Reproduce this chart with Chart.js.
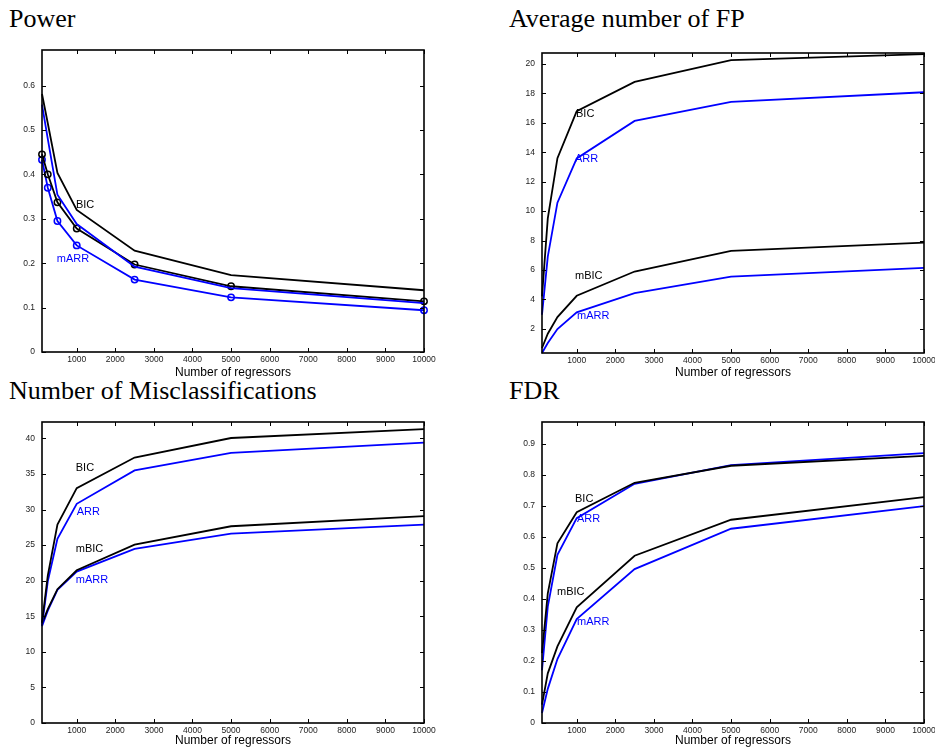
<!DOCTYPE html>
<html><head><meta charset="utf-8">
<script src="https://cdn.jsdelivr.net/npm/chart.js@4"></script>
<style>
body{margin:0;width:935px;height:748px;position:relative;overflow:hidden;background:#fff}
.t{position:absolute;font-family:"Liberation Serif",serif;font-size:26px;line-height:26px;color:#000;white-space:nowrap}
canvas{position:absolute}
</style></head><body>
<div class="t" style="left:9px;top:6px">Power</div>
<div class="t" style="left:509px;top:6px">Average number of FP</div>
<div class="t" style="left:9px;top:378px">Number of Misclassifications</div>
<div class="t" style="left:509px;top:378px">FDR</div>
<canvas id="c1" width="467" height="341" style="left:0;top:40px"></canvas>
<canvas id="c2" width="435" height="341" style="left:500px;top:40px"></canvas>
<canvas id="c3" width="467" height="338" style="left:0;top:410px"></canvas>
<canvas id="c4" width="435" height="338" style="left:500px;top:410px"></canvas>
<script>
// ---- data ----
const xValues = [100, 250, 500, 1000, 2500, 5000, 10000];
const xTicks = [1000, 2000, 3000, 4000, 5000, 6000, 7000, 8000, 9000, 10000];

const powerBIC  = [0.581, 0.515, 0.403, 0.320, 0.228, 0.173, 0.139];
const powerARR  = [0.557, 0.480, 0.354, 0.288, 0.192, 0.144, 0.110];
const powerMBIC = [0.445, 0.400, 0.337, 0.278, 0.197, 0.148, 0.114];
const powerMARR = [0.433, 0.370, 0.295, 0.240, 0.163, 0.123, 0.094];
const powerTicks = [0, 0.1, 0.2, 0.3, 0.4, 0.5, 0.6];

const fpBIC  = [4.2, 9.5, 13.6, 16.8, 18.78, 20.27, 20.68];
const fpARR  = [2.95, 6.9, 10.57, 13.58, 16.13, 17.42, 18.08];
const fpMBIC = [0.69, 1.66, 2.79, 4.24, 5.89, 7.29, 7.86];
const fpMARR = [0.35, 1.03, 1.98, 3.11, 4.42, 5.55, 6.14];
const fpTicks = [2, 4, 6, 8, 10, 12, 14, 16, 18, 20];

const misBIC  = [14.1, 20.7, 27.9, 33.0, 37.3, 40.05, 41.3];
const misARR  = [13.7, 19.9, 25.9, 30.8, 35.5, 37.97, 39.4];
const misMBIC = [14.0, 16.0, 18.8, 21.46, 25.07, 27.65, 29.06];
const misMARR = [13.6, 15.8, 18.7, 21.28, 24.46, 26.6, 27.87];
const misTicks = [0, 5, 10, 15, 20, 25, 30, 35, 40];

const fdrBIC  = [0.225, 0.418, 0.579, 0.679, 0.774, 0.829, 0.861];
const fdrARR  = [0.170, 0.375, 0.542, 0.660, 0.771, 0.831, 0.870];
const fdrMBIC = [0.059, 0.160, 0.247, 0.373, 0.539, 0.655, 0.728];
const fdrMARR = [0.032, 0.110, 0.206, 0.335, 0.496, 0.626, 0.699];
const fdrTicks = [0, 0.1, 0.2, 0.3, 0.4, 0.5, 0.6, 0.7, 0.8, 0.9];

const BLACK = '#000000', BLUE = '#0000ff';

const framePlugin = {
  id: 'frame',
  afterDatasetsDraw(chart, args, opts) {
    const ctx = chart.ctx, a = chart.chartArea, x = chart.scales.x, y = chart.scales.y;
    ctx.save();
    ctx.strokeStyle = '#000';
    ctx.lineWidth = 1;
    const tl = 4;
    ctx.beginPath();
    x.ticks.forEach(t => {
      const px = Math.round(x.getPixelForValue(t.value)) + 0.5;
      ctx.moveTo(px, a.bottom); ctx.lineTo(px, a.bottom - tl);
      ctx.moveTo(px, a.top); ctx.lineTo(px, a.top + tl);
    });
    y.ticks.forEach(t => {
      const py = Math.round(y.getPixelForValue(t.value)) + 0.5;
      ctx.moveTo(a.left, py); ctx.lineTo(a.left + tl, py);
      ctx.moveTo(a.right, py); ctx.lineTo(a.right - tl, py);
    });
    ctx.stroke();
    ctx.lineWidth = 1.6;
    ctx.strokeRect(a.left, a.top, a.right - a.left, a.bottom - a.top);
    ctx.font = '11px "Liberation Sans", Arial, sans-serif';
    ctx.textBaseline = 'middle';
    ctx.textAlign = 'left';
    (opts.labels || []).forEach(l => {
      ctx.fillStyle = l.color;
      ctx.fillText(l.text, x.getPixelForValue(l.x), y.getPixelForValue(l.y));
    });
    ctx.restore();
  }
};

function series(values, color, markers) {
  return {
    data: xValues.map((xv, i) => ({x: xv, y: values[i]})),
    borderColor: color,
    borderWidth: 1.8,
    pointRadius: markers ? 3.2 : 0,
    pointBorderColor: color,
    pointBackgroundColor: 'rgba(0,0,0,0)',
    pointBorderWidth: 1.5,
    tension: 0,
    fill: false,
    clip: false
  };
}

function makeChart(id, cfg) {
  new Chart(document.getElementById(id), {
    type: 'line',
    data: {datasets: cfg.datasets},
    options: {
      responsive: false,
      animation: false,
      events: [],
      layout: {padding: {top: cfg.padTop, right: cfg.padRight, left: 0, bottom: cfg.padBottom}},
      plugins: {legend: {display: false}, tooltip: {enabled: false}, title: {display: false},
        frame: {labels: cfg.labels}},
      scales: {
        x: {
          type: 'linear', min: 100, max: 10000,
          afterBuildTicks: s => { s.ticks = xTicks.map(v => ({value: v})); },
          afterFit: s => { s.height = cfg.xAxisH; s.paddingLeft = 0; s.paddingRight = 0; },
          grid: {display: false, drawTicks: false},
          border: {display: false},
          ticks: {padding: 3, autoSkip: false, maxRotation: 0, minRotation: 0, color: '#222',
            font: {size: 8.5, family: '"Liberation Sans", Arial, sans-serif'}, callback: v => String(v)},
          title: {display: true, text: 'Number of regressors', color: '#000', padding: 0,
            font: {size: 12, family: '"Liberation Sans", Arial, sans-serif'}}
        },
        y: {
          type: 'linear', min: cfg.yMin, max: cfg.yMax,
          afterBuildTicks: s => { s.ticks = cfg.yTicks.map(v => ({value: v})); },
          afterFit: s => { s.width = cfg.yAxisW; s.paddingTop = 0; s.paddingBottom = 0; },
          grid: {display: false, drawTicks: false},
          border: {display: false},
          ticks: {padding: 7, autoSkip: false, color: '#222',
            font: {size: 8.5, family: '"Liberation Sans", Arial, sans-serif'}, callback: v => String(v)}
        }
      }
    },
    plugins: [framePlugin]
  });
}

makeChart('c1', {
  datasets: [series(powerBIC, BLACK, false), series(powerARR, BLUE, false),
             series(powerMBIC, BLACK, true), series(powerMARR, BLUE, true)],
  yMin: 0, yMax: 0.68, yTicks: powerTicks,
  padTop: 10, padRight: 43, padBottom: 1, xAxisH: 28, yAxisW: 42,
  labels: [{text: 'BIC', x: 980, y: 0.331, color: BLACK}, {text: 'mARR', x: 482, y: 0.209, color: BLUE}]
});
makeChart('c2', {
  datasets: [series(fpBIC, BLACK, false), series(fpARR, BLUE, false),
             series(fpMBIC, BLACK, false), series(fpMARR, BLUE, false)],
  yMin: 0.35, yMax: 20.75, yTicks: fpTicks,
  padTop: 13, padRight: 11, padBottom: 1, xAxisH: 27, yAxisW: 42,
  labels: [{text: 'BIC', x: 982, y: 16.59, color: BLACK}, {text: 'ARR', x: 956, y: 13.53, color: BLUE},
           {text: 'mBIC', x: 956, y: 5.6, color: BLACK}, {text: 'mARR', x: 1008, y: 2.88, color: BLUE}]
});
makeChart('c3', {
  datasets: [series(misBIC, BLACK, false), series(misARR, BLUE, false),
             series(misMBIC, BLACK, false), series(misMARR, BLUE, false)],
  yMin: 0, yMax: 42.3, yTicks: misTicks,
  padTop: 12, padRight: 43, padBottom: 0, xAxisH: 25, yAxisW: 42,
  labels: [{text: 'BIC', x: 975, y: 35.9, color: BLACK}, {text: 'ARR', x: 1001, y: 29.7, color: BLUE},
           {text: 'mBIC', x: 975, y: 24.4, color: BLACK}, {text: 'mARR', x: 975, y: 20.15, color: BLUE}]
});
makeChart('c4', {
  datasets: [series(fdrBIC, BLACK, false), series(fdrARR, BLUE, false),
             series(fdrMBIC, BLACK, false), series(fdrMARR, BLUE, false)],
  yMin: 0, yMax: 0.97, yTicks: fdrTicks,
  padTop: 12, padRight: 11, padBottom: 0, xAxisH: 25, yAxisW: 42,
  labels: [{text: 'BIC', x: 956, y: 0.722, color: BLACK}, {text: 'ARR', x: 1008, y: 0.658, color: BLUE},
           {text: 'mBIC', x: 488, y: 0.423, color: BLACK}, {text: 'mARR', x: 1008, y: 0.326, color: BLUE}]
});
</script>
</body></html>
